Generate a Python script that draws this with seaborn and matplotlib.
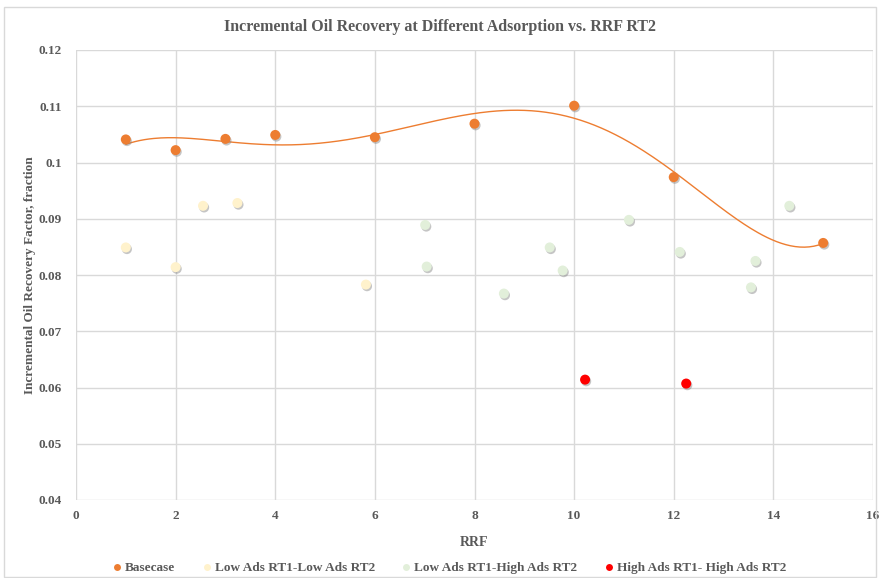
import numpy as np
import pandas as pd
import matplotlib.pyplot as plt
import matplotlib.patheffects as pe
from matplotlib.patches import Rectangle
from matplotlib.lines import Line2D
import seaborn as sns

# values
base_rrf = [1, 2, 3, 4, 6, 8, 10, 12, 15]
base_rec = [0.1041, 0.1022, 0.1042, 0.1049, 0.1045, 0.1069, 0.1101, 0.0974, 0.0857]

low_low_rrf = [1.0, 2.0, 2.55, 3.24, 5.82]
low_low_rec = [0.0849, 0.0814, 0.0923, 0.0928, 0.0783]

low_high_rrf = [7.01, 7.04, 8.59, 9.51, 9.77, 11.1, 12.12, 13.55, 13.64, 14.32]
low_high_rec = [0.0889, 0.0815, 0.0767, 0.0849, 0.0808, 0.0898, 0.0841, 0.0778, 0.0825, 0.0923]

high_high_rrf = [10.22, 12.25]
high_high_rec = [0.0614, 0.0607]

series_names = ["Basecase", "Low Ads RT1-Low Ads RT2",
                "Low Ads RT1-High Ads RT2", "High Ads RT1- High Ads RT2"]
series_colors = ["#ED7D31", "#FFF2CC", "#E2EFDA", "#FF0000"]

# build one long table for seaborn
frames = []
for name, xs, ys in zip(series_names,
                        [base_rrf, low_low_rrf, low_high_rrf, high_high_rrf],
                        [base_rec, low_low_rec, low_high_rec, high_high_rec]):
    frames.append(pd.DataFrame({"RRF": xs, "Recovery": ys, "Case": name}))
df = pd.concat(frames, ignore_index=True)

sns.set_style("white")
plt.rcParams['font.family'] = ['Liberation Serif', 'DejaVu Serif']
text_color = "#595959"

fig = plt.figure(figsize=(8.8, 5.78), dpi=100)
ax = fig.add_axes([76 / 880, 1 - 500 / 578, (873 - 76) / 880, (500 - 50) / 578])

# outer chart border like an Excel chart area
fig.patches.append(Rectangle((4 / 880, 0.002), 872 / 880, 1 - 7 / 578 - 0.002,
                             transform=fig.transFigure, fill=False,
                             edgecolor="#D9D9D9", linewidth=1))

# polynomial trendline for the basecase
coef = np.polyfit(base_rrf, base_rec, 5)
xx = np.linspace(min(base_rrf), max(base_rrf), 300)
sns.lineplot(x=xx, y=np.polyval(coef, xx), ax=ax, color="#ED7D31",
             linewidth=1.0, zorder=2, legend=False)

shadow = [pe.SimplePatchShadow(offset=(0.8, -1.2), shadow_rgbFace="#7F7F7F", alpha=0.45),
          pe.Normal()]
sns.scatterplot(data=df, x="RRF", y="Recovery", hue="Case",
                hue_order=series_names, palette=series_colors,
                s=52, edgecolor="none", linewidth=0, ax=ax, zorder=3,
                legend=False)
for coll in ax.collections:
    coll.set_path_effects(shadow)

ax.set_xlim(0, 16)
ax.set_ylim(0.04, 0.12)
ax.set_xticks(range(0, 17, 2))
ax.set_yticks(np.arange(0.04, 0.1201, 0.01))
ax.set_yticklabels(["0.04", "0.05", "0.06", "0.07", "0.08", "0.09", "0.1", "0.11", "0.12"])
ax.grid(True, color="#D9D9D9", linewidth=1)
for s in ax.spines.values():
    s.set_visible(False)
ax.tick_params(axis="y", length=0, labelsize=9.5, labelcolor=text_color, pad=10)
ax.tick_params(axis="x", length=0, labelsize=9.5, labelcolor=text_color, pad=7)
for lab in ax.get_xticklabels() + ax.get_yticklabels():
    lab.set_fontweight("bold")

ax.set_xlabel("RRF", fontsize=10, fontweight="bold", color=text_color, labelpad=10)
ax.set_ylabel("Incremental Oil Recovery Factor, fraction", fontsize=9.5,
              fontweight="bold", color=text_color, labelpad=2)
fig.text(0.5, 1 - 27 / 578, "Incremental Oil Recovery at Different Adsorption vs. RRF RT2",
         ha="center", va="center", fontsize=11.5, fontweight="bold", color=text_color)

handles = [Line2D([0], [0], marker="o", linestyle="none", markersize=5,
                  markerfacecolor=c, markeredgecolor="none") for c in series_colors]
fig.legend(handles, series_names, loc="center", bbox_to_anchor=(0.511, 1 - 568 / 578),
           ncol=4, frameon=False, handlelength=0.6, handletextpad=0.3,
           columnspacing=2.1, labelcolor=text_color,
           prop={"weight": "bold", "size": 9.5})

fig.savefig("out.png", dpi=100)
